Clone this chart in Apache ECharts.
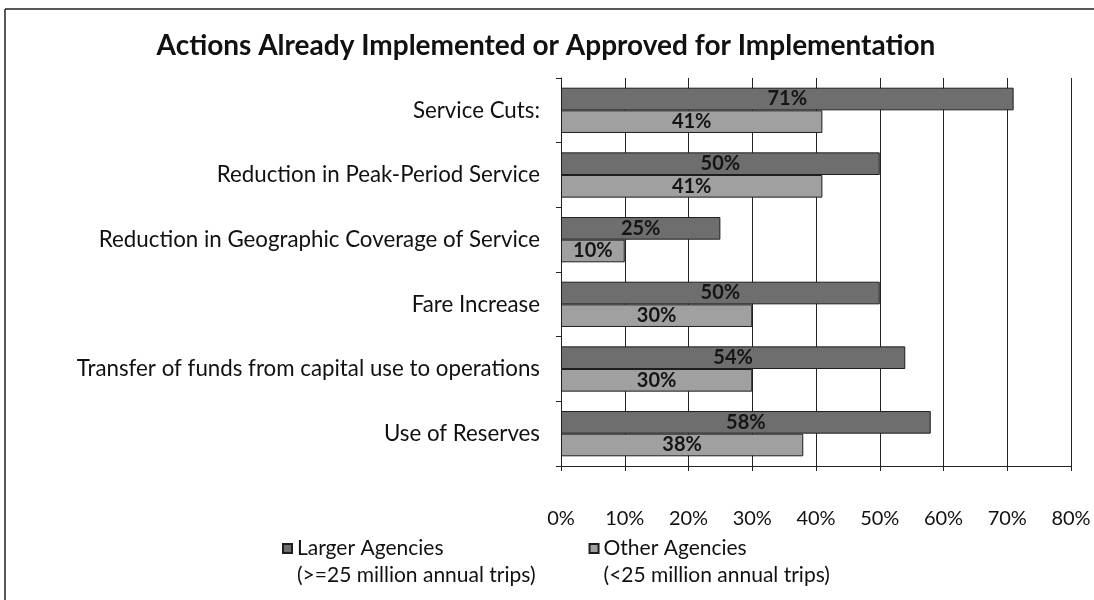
<!DOCTYPE html>
<html>
<head>
<meta charset="utf-8">
<script src="https://cdn.jsdelivr.net/npm/echarts@6/dist/echarts.min.js"></script>
<style>html,body{margin:0;padding:0;background:#fff}#c{width:1094px;height:600px}</style>
</head>
<body>
<div id="c"></div>
<script>
const titleText = 'Actions Already Implemented or Approved for Implementation';
const categories = [
  'Service Cuts:',
  'Reduction in Peak-Period Service',
  'Reduction in Geographic Coverage of Service',
  'Fare Increase',
  'Transfer of funds from capital use to operations',
  'Use of Reserves'
];
const seriesNames = ['Larger Agencies', 'Other Agencies'];
const seriesSubtitles = ['(>=25 million annual trips)', '(<25 million annual trips)'];
const largerValues = [71, 50, 25, 50, 54, 58];
const otherValues = [41, 41, 10, 30, 30, 38];
const xTicks = [0, 10, 20, 30, 40, 50, 60, 70, 80];

const FONT = 'Lato';
const chart = echarts.init(document.getElementById('c'), null, {renderer: 'canvas'});

const labelCfg = {
  show: true,
  position: 'inside',
  formatter: p => Math.round(p.value) + '%',
  color: '#151515',
  fontFamily: FONT,
  fontSize: 20,
  fontWeight: 'bold'
};

chart.setOption({
  backgroundColor: '#fff',
  animation: false,
  title: {
    text: titleText,
    left: 541,
    textAlign: 'center',
    top: 27,
    textStyle: {fontFamily: FONT, fontSize: 28, fontWeight: 'bold', color: '#111'}
  },
  graphic: [
    {type: 'line', shape: {x1: 5, y1: 9, x2: 1094, y2: 9}, style: {stroke: '#222', lineWidth: 1.5}},
    {type: 'line', shape: {x1: 5, y1: 9, x2: 5, y2: 600}, style: {stroke: '#222', lineWidth: 1.5}}
  ],
  grid: {left: 561, right: 23, top: 78, bottom: 134, containLabel: false},
  xAxis: {
    type: 'value',
    min: xTicks[0],
    max: xTicks[xTicks.length - 1],
    interval: 10,
    axisLine: {show: true, lineStyle: {color: '#222', width: 1}},
    axisTick: {show: true, length: 5, lineStyle: {color: '#222'}},
    splitLine: {show: true, lineStyle: {color: '#222', width: 1}},
    axisLabel: {
      formatter: v => v + '%',
      color: '#111',
      fontFamily: FONT,
      fontSize: 20,
      margin: 43
    }
  },
  yAxis: {
    type: 'category',
    data: categories,
    inverse: true,
    axisLine: {show: true, lineStyle: {color: '#222', width: 1}},
    axisTick: {show: true, length: 5, lineStyle: {color: '#222'}},
    axisLabel: {color: '#111', fontFamily: FONT, fontSize: 22.3, margin: 21}
  },
  legend: {
    left: 277,
    top: 533,
    itemWidth: 9,
    itemHeight: 9,
    itemGap: 53,
    icon: 'rect',
    formatter: name => {
      const i = seriesNames.indexOf(name);
      return '{a|' + name + '}\n{b|' + seriesSubtitles[i] + '}';
    },
    textStyle: {
      fontFamily: FONT,
      fontSize: 21,
      color: '#111',
      padding: [27, 0, 0, 0],
      rich: {
        a: {fontFamily: FONT, fontSize: 21, color: '#111', lineHeight: 27},
        b: {fontFamily: FONT, fontSize: 21, color: '#111', lineHeight: 27}
      }
    },
    data: seriesNames
  },
  series: [
    {
      name: seriesNames[0],
      type: 'bar',
      data: largerValues,
      barGap: '0%',
      barCategoryGap: '30%',
      itemStyle: {color: '#6e6e6e', borderColor: '#1e1e1e', borderWidth: 1},
      label: labelCfg
    },
    {
      name: seriesNames[1],
      type: 'bar',
      data: otherValues,
      barGap: '0%',
      barCategoryGap: '30%',
      itemStyle: {color: '#a0a0a0', borderColor: '#1e1e1e', borderWidth: 1},
      label: labelCfg
    }
  ]
});
</script>
</body>
</html>
